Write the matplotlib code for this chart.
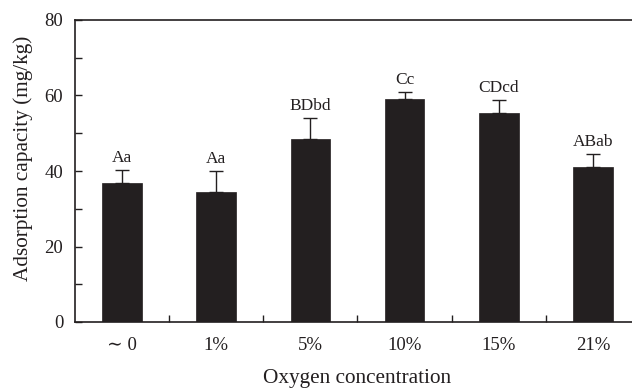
import matplotlib
matplotlib.use("Agg")
import matplotlib.pyplot as plt
import numpy as np

categories = ["\u223c 0", "1%", "5%", "10%", "15%", "21%"]
values = [36.7, 34.5, 48.5, 59.2, 55.3, 41.1]
errors = [3.6, 5.5, 5.5, 1.7, 3.5, 3.4]
letters = ["Aa", "Aa", "BDbd", "Cc", "CDcd", "ABab"]

plt.rcParams['font.family'] = ['Liberation Serif', 'DejaVu Serif']
dark = "#231f20"

fig = plt.figure(figsize=(6.32, 3.88), dpi=100)
ax = fig.add_axes([75/632, 1-322/388, (640-75)/632, 302/388])

x = np.arange(len(categories))
ax.bar(x, values, width=0.42, color=dark, edgecolor=dark, linewidth=0.5, zorder=2)
ax.errorbar(x, values, yerr=[np.zeros(len(errors)), errors], fmt='none',
            ecolor=dark, elinewidth=1.0, capsize=5, capthick=1.0, zorder=3)
for xi, v, e, t in zip(x, values, errors, letters):
    ax.text(xi, v + e + 1.0, t, ha='center', va='bottom', fontsize=12.5, color=dark)

ax.set_xlim(-0.5, 5.5)
ax.set_ylim(0, 80)
ax.set_yticks([0, 20, 40, 60, 80])
ax.set_yticks([10, 30, 50, 70], minor=True)
ax.set_xticks(x)
ax.set_xticklabels(categories)
ax.set_xticks(np.arange(0.5, 5, 1), minor=True)
ax.tick_params(axis='x', which='major', length=0, pad=11, labelsize=13.5, colors=dark)
ax.tick_params(axis='x', which='minor', direction='in', length=5, width=1, color=dark)
ax.tick_params(axis='y', which='both', direction='in', length=5, width=1, color=dark,
               labelsize=13.5, labelcolor=dark, pad=8.5)
for s in ['left', 'bottom', 'top']:
    ax.spines[s].set_color(dark)
    ax.spines[s].set_linewidth(1.2)
ax.spines['right'].set_visible(False)

ax.set_ylabel("Adsorption capacity (mg/kg)", fontsize=15.3, color=dark)
ax.yaxis.set_label_coords(-0.074, 0.543)
ax.set_xlabel("Oxygen concentration", fontsize=15.3, color=dark, labelpad=10.5)

fig.savefig("out.png", dpi=100)
